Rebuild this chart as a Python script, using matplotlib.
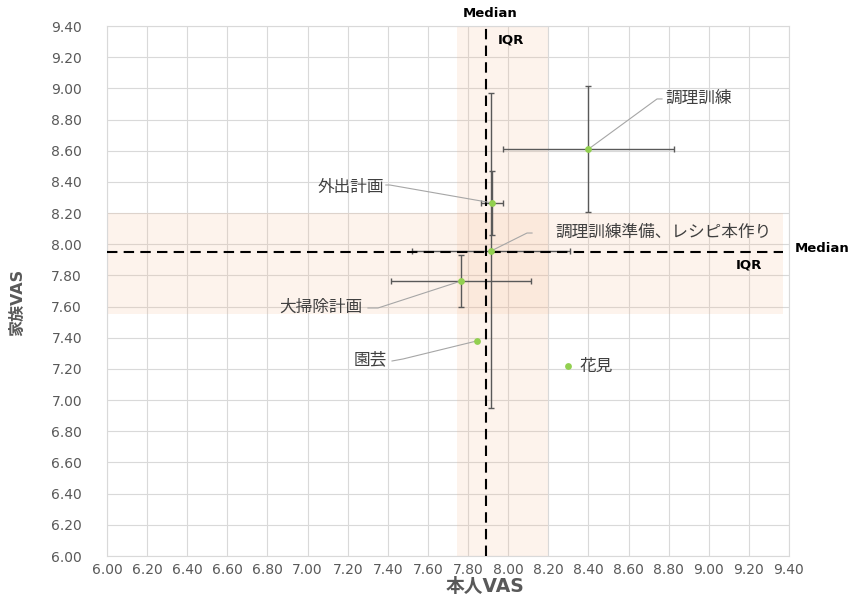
import numpy as np
import matplotlib
matplotlib.use("Agg")
import matplotlib.pyplot as plt

plt.rcParams['font.family'] = ['DejaVu Sans', 'Noto Sans CJK JP']
JP = ['Noto Sans CJK JP', 'DejaVu Sans']

# データ（本人VAS, 家族VAS）
names = ["調理訓練", "外出計画", "調理訓練準備、レシピ本作り", "大掃除計画", "園芸", "花見"]
self_vas = [8.40, 7.92, 7.915, 7.765, 7.845, 8.30]
family_vas = [8.61, 8.265, 7.957, 7.764, 7.38, 7.22]
self_err = [0.425, 0.055, 0.395, 0.35, None, None]
family_err = [0.405, 0.205, 1.01, 0.165, None, None]

median_self = 7.89
median_family = 7.95
iqr_self = [7.745, 8.20]
iqr_family = [7.55, 8.20]
band_end = 9.37

ticks = np.round(np.arange(6.0, 9.41, 0.2), 2)

# ラベル位置 (x, y, ha) と引き出し線 (端, 折れ点)
label_pos = [(8.782, 8.938, 'left'), (7.381, 8.367, 'right'), (8.233, 8.079, 'left'),
             (7.271, 7.598, 'right'), (7.396, 7.258, 'right'), (8.358, 7.219, 'left')]
leader_stub = [(8.767, 8.932), (7.39, 8.38), (8.119, 8.072),
               (7.301, 7.591), (7.421, 7.251), None]
leader_elbow = [(8.742, 8.932), (7.41, 8.38), (8.094, 8.072),
                (7.351, 7.591), (7.476, 7.264), None]

fig = plt.figure(figsize=(8.51, 6.01), dpi=100)
ax = fig.add_axes([107/851, 1-556/601, (789-107)/851, (556-26)/601])

# IQR帯
ax.axvspan(iqr_self[0], iqr_self[1], color='#F4B183', alpha=0.15, lw=0, zorder=1)
ax.fill_between([6.0, band_end], iqr_family[0], iqr_family[1], color='#F4B183', alpha=0.15, lw=0, zorder=1)

# エラーバー
for i in range(len(names)):
    if self_err[i] is None:
        continue
    ax.errorbar(self_vas[i], family_vas[i], xerr=self_err[i], yerr=family_err[i],
                fmt='none', ecolor='#595959', elinewidth=1.0, capsize=2.5, capthick=1.0, zorder=3)

# 中央値の線
ax.axvline(median_self, color='black', lw=1.5, ls=(0, (5, 3)), zorder=4)
ax.plot([6.0, band_end], [median_family, median_family], color='black', lw=1.5, ls=(0, (5, 3)), zorder=4)

ax.scatter(self_vas, family_vas, s=24, color='#92D050', zorder=5, linewidths=0)

# データラベル
for i, name in enumerate(names):
    tx, ty, ha = label_pos[i]
    ax.text(tx, ty, name, ha=ha, va='center', fontsize=12, color='#404040', family=JP, zorder=6)
    if leader_stub[i] is not None:
        xs = [leader_stub[i][0], leader_elbow[i][0], self_vas[i]]
        ys = [leader_stub[i][1], leader_elbow[i][1], family_vas[i]]
        ax.plot(xs, ys, color='#A6A6A6', lw=0.8, zorder=4.5)

ax.set_xlim(6.0, 9.4)
ax.set_ylim(6.0, 9.4)
ax.set_xticks(ticks)
ax.set_yticks(ticks)
ax.set_xticklabels([f"{t:.2f}" for t in ticks])
ax.set_yticklabels([f"{t:.2f}" for t in ticks])
ax.tick_params(axis='both', length=0, labelsize=10, colors='#595959')
ax.tick_params(axis='x', pad=5)
ax.tick_params(axis='y', pad=18)
ax.grid(True, color='#D9D9D9', lw=0.8, zorder=0)
ax.set_axisbelow(True)
for sp in ax.spines.values():
    sp.set_color('#D9D9D9')
    sp.set_linewidth(0.8)

# Median / IQR の注記
ax.text(7.909, 9.483, "Median", ha='center', va='center', fontsize=9.5, fontweight='bold', clip_on=False)
ax.text(7.949, 9.31, "IQR", ha='left', va='center', fontsize=9.5, fontweight='bold')
ax.text(9.43, 7.97, "Median", ha='left', va='center', fontsize=9.5, fontweight='bold', clip_on=False)
ax.text(9.20, 7.867, "IQR", ha='center', va='center', fontsize=9.5, fontweight='bold')

fig.text(485/851, 1-587/601, "本人VAS", ha='center', va='center', fontsize=13.5,
         fontweight='bold', color='#595959')
fig.text(18/851, 1-302/601, "家族VAS", ha='center', va='center', fontsize=11.5,
         fontweight='bold', color='#595959', rotation=90)

fig.savefig("out.png", dpi=100)
